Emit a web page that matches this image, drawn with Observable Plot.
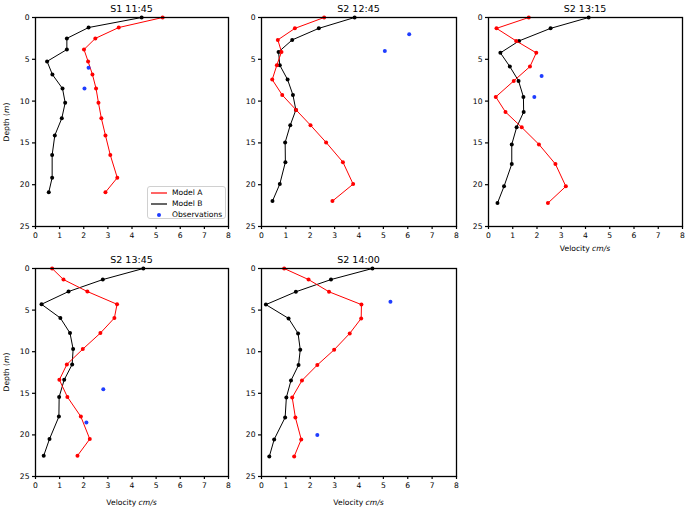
<!DOCTYPE html>
<html><head><meta charset="utf-8">
<script src="https://cdn.jsdelivr.net/npm/d3@7"></script>
<script src="https://cdn.jsdelivr.net/npm/@observablehq/plot@0.6"></script>
<style>
body{margin:0;background:#fff;font-family:"DejaVu Sans",sans-serif;}
#root{position:relative;width:685px;height:508px;overflow:hidden;background:#fff;}
.panel{position:absolute;}
.title{position:absolute;font-size:9.5px;text-align:center;white-space:nowrap;transform:translate(-50%,-50%);}
.xlab{position:absolute;font-size:7.6px;white-space:nowrap;transform:translate(-50%,-50%);}
.ylab{position:absolute;font-size:7.6px;white-space:nowrap;transform:translate(-50%,-50%) rotate(-90deg);}
.legend{position:absolute;left:147px;top:186px;width:79px;height:33px;border:1px solid #d0d0d0;border-radius:3px;background:#fff;box-sizing:border-box;font-size:7.6px;}
.legend .row{position:absolute;left:0;height:10px;line-height:10px;}
.legend svg{position:absolute;left:2px;top:0;}
.legend span{position:absolute;left:24px;top:0;white-space:nowrap;}
</style></head><body><div id="root"></div>
<script>
// ---------- data ----------
const titles = ["S1 11:45", "S2 12:45", "S2 13:15", "S2 13:45", "S2 14:00"];
const xTicks = [0, 1, 2, 3, 4, 5, 6, 7, 8];
const yTicks = [0, 5, 10, 15, 20, 25];

const depth1 = [0, 1.2, 2.5, 3.83, 5.25, 6.82, 8.5, 10.2, 12.06, 14.1, 16.45, 19.17, 20.9];
const depth2 = [0, 1.3, 2.68, 4.12, 5.7, 7.43, 9.27, 11.06, 12.88, 14.94, 17.3, 19.93, 21.96];
const depth3 = [0, 1.3, 2.8, 4.23, 5.87, 7.59, 9.5, 11.3, 13.14, 15.18, 17.53, 20.2, 22.2];
const depth4 = [0, 1.33, 2.77, 4.3, 5.95, 7.76, 9.69, 11.53, 13.38, 15.43, 17.8, 20.5, 22.5];
const depth5 = [0, 1.33, 2.8, 4.34, 6.0, 7.8, 9.77, 11.6, 13.46, 15.5, 17.9, 20.54, 22.6];

const modelA1 = [5.27, 3.45, 2.48, 2.01, 2.18, 2.36, 2.51, 2.61, 2.73, 2.9, 3.1, 3.39, 2.9];
const modelA2 = [2.57, 1.37, 0.67, 0.82, 0.63, 0.44, 0.85, 1.42, 2.01, 2.65, 3.34, 3.76, 2.91];
const modelA3 = [1.66, 0.33, 1.14, 1.97, 1.71, 1.04, 0.3, 0.7, 1.37, 2.08, 2.76, 3.19, 2.45];
const modelA4 = [0.69, 1.16, 2.15, 3.38, 3.27, 2.69, 1.96, 1.3, 0.99, 1.32, 1.88, 2.25, 1.74];
const modelA5 = [0.93, 1.93, 2.77, 4.1, 4.09, 3.62, 2.98, 2.29, 1.66, 1.26, 1.39, 1.63, 1.34];

const modelB1 = [4.4, 2.2, 1.3, 1.3, 0.48, 0.7, 1.12, 1.23, 1.09, 0.8, 0.69, 0.69, 0.55];
const modelB2 = [3.82, 2.35, 1.26, 0.7, 0.75, 1.07, 1.29, 1.41, 1.18, 0.97, 0.98, 0.75, 0.45];
const modelB3 = [4.13, 2.56, 1.26, 0.49, 0.88, 1.24, 1.44, 1.45, 1.16, 0.96, 0.96, 0.64, 0.37];
const modelB4 = [4.47, 2.79, 1.37, 0.25, 1.03, 1.43, 1.56, 1.52, 1.19, 0.98, 0.97, 0.58, 0.34];
const modelB5 = [4.55, 2.85, 1.41, 0.18, 1.11, 1.5, 1.59, 1.52, 1.21, 1.02, 0.97, 0.52, 0.32];

const obsVel1 = [2.2, 2.03];   const obsDepth1 = [6.0, 8.5];
const obsVel2 = [6.06, 5.06];  const obsDepth2 = [2.0, 4.0];
const obsVel3 = [2.19, 1.89];  const obsDepth3 = [7.0, 9.5];
const obsVel4 = [2.81, 2.11];  const obsDepth4 = [14.5, 18.5];
const obsVel5 = [5.29, 2.29];  const obsDepth5 = [4.0, 20.0];

const depths = [depth1, depth2, depth3, depth4, depth5];
const modelsA = [modelA1, modelA2, modelA3, modelA4, modelA5];
const modelsB = [modelB1, modelB2, modelB3, modelB4, modelB5];
const obsVels = [obsVel1, obsVel2, obsVel3, obsVel4, obsVel5];
const obsDepths = [obsDepth1, obsDepth2, obsDepth3, obsDepth4, obsDepth5];

const RED = "#ff0000", BLACK = "#000000", BLUE = "#1f3dff";

// ---------- layout ----------
const layout = [
  {left: 0,   top: 0,   width: 232, height: 250, ml: 35, mr: 4, mt: 17, mb: 24, ylab: true,  xlab: false, xoff: 22},
  {left: 228, top: 0,   width: 232, height: 250, ml: 33, mr: 4, mt: 17, mb: 24, ylab: false, xlab: false, xoff: 22},
  {left: 455, top: 0,   width: 230, height: 250, ml: 33, mr: 3, mt: 17, mb: 24, ylab: false, xlab: true,  xoff: 22},
  {left: 0,   top: 255, width: 232, height: 245, ml: 35, mr: 4, mt: 13, mb: 24, ylab: true,  xlab: true,  xoff: 26},
  {left: 228, top: 255, width: 232, height: 245, ml: 33, mr: 4, mt: 13, mb: 24, ylab: false, xlab: true,  xoff: 26}
];

const root = document.getElementById("root");

function addDiv(cls, html, x, y) {
  const d = document.createElement("div");
  d.className = cls;
  d.innerHTML = html;
  d.style.left = x + "px";
  d.style.top = y + "px";
  root.appendChild(d);
  return d;
}

layout.forEach((L, i) => {
  const rowsA = depths[i].map((d, k) => ({v: modelsA[i][k], d}));
  const rowsB = depths[i].map((d, k) => ({v: modelsB[i][k], d}));
  const rowsO = obsVels[i].map((v, k) => ({v, d: obsDepths[i][k]}));
  const chart = Plot.plot({
    width: L.width, height: L.height,
    marginLeft: L.ml, marginRight: L.mr, marginTop: L.mt, marginBottom: L.mb,
    style: {fontFamily: "DejaVu Sans, sans-serif", fontSize: "7.6px", color: "#000", background: "transparent", overflow: "visible"},
    x: {domain: [0, 8]},
    y: {domain: [0, 25], reverse: true},
    marks: [
      Plot.line(rowsB, {x: "v", y: "d", stroke: BLACK, strokeWidth: 1}),
      Plot.dot(rowsB, {x: "v", y: "d", fill: BLACK, r: 2}),
      Plot.line(rowsA, {x: "v", y: "d", stroke: RED, strokeWidth: 1}),
      Plot.dot(rowsA, {x: "v", y: "d", fill: RED, r: 2}),
      Plot.dot(rowsO, {x: "v", y: "d", fill: BLUE, r: 2}),
      Plot.frame({stroke: BLACK, strokeWidth: 1.3}),
      Plot.axisX({ticks: xTicks, tickSize: 3, tickPadding: 3, label: null, strokeWidth: 1.2}),
      Plot.axisY({ticks: yTicks, tickSize: 3, tickPadding: 3, label: null, strokeWidth: 1.2})
    ]
  });
  chart.classList.add("panel");
  chart.style.left = L.left + "px";
  chart.style.top = L.top + "px";
  root.appendChild(chart);

  const fx0 = L.left + L.ml, fx1 = L.left + L.width - L.mr;
  const fy0 = L.top + L.mt, fy1 = L.top + L.height - L.mb;
  const cx = (fx0 + fx1) / 2, cy = (fy0 + fy1) / 2;
  addDiv("title", titles[i], cx, fy0 - 9);
  if (L.xlab) addDiv("xlab", "Velocity <i>cm/s</i>", cx, fy1 + L.xoff);
  if (L.ylab) addDiv("ylab", "Depth (<i>m</i>)", 6, cy);
});

// legend (panel 1)
const legendItems = [
  {label: "Model A", kind: "line", color: RED},
  {label: "Model B", kind: "line", color: BLACK},
  {label: "Observations", kind: "dot", color: BLUE}
];
const leg = addDiv("legend", "", 147, 186);
legendItems.forEach((it, k) => {
  const row = document.createElement("div");
  row.className = "row";
  row.style.top = (1 + k * 10.8) + "px";
  row.style.width = "100%";
  const sw = it.kind === "line"
    ? `<svg width="18" height="10"><line x1="1" x2="17" y1="5" y2="5" stroke="${it.color}" stroke-width="1.2"/></svg>`
    : `<svg width="18" height="10"><circle cx="9" cy="5" r="2" fill="${it.color}"/></svg>`;
  row.innerHTML = sw + `<span>${it.label}</span>`;
  leg.appendChild(row);
});
</script>
</body></html>
